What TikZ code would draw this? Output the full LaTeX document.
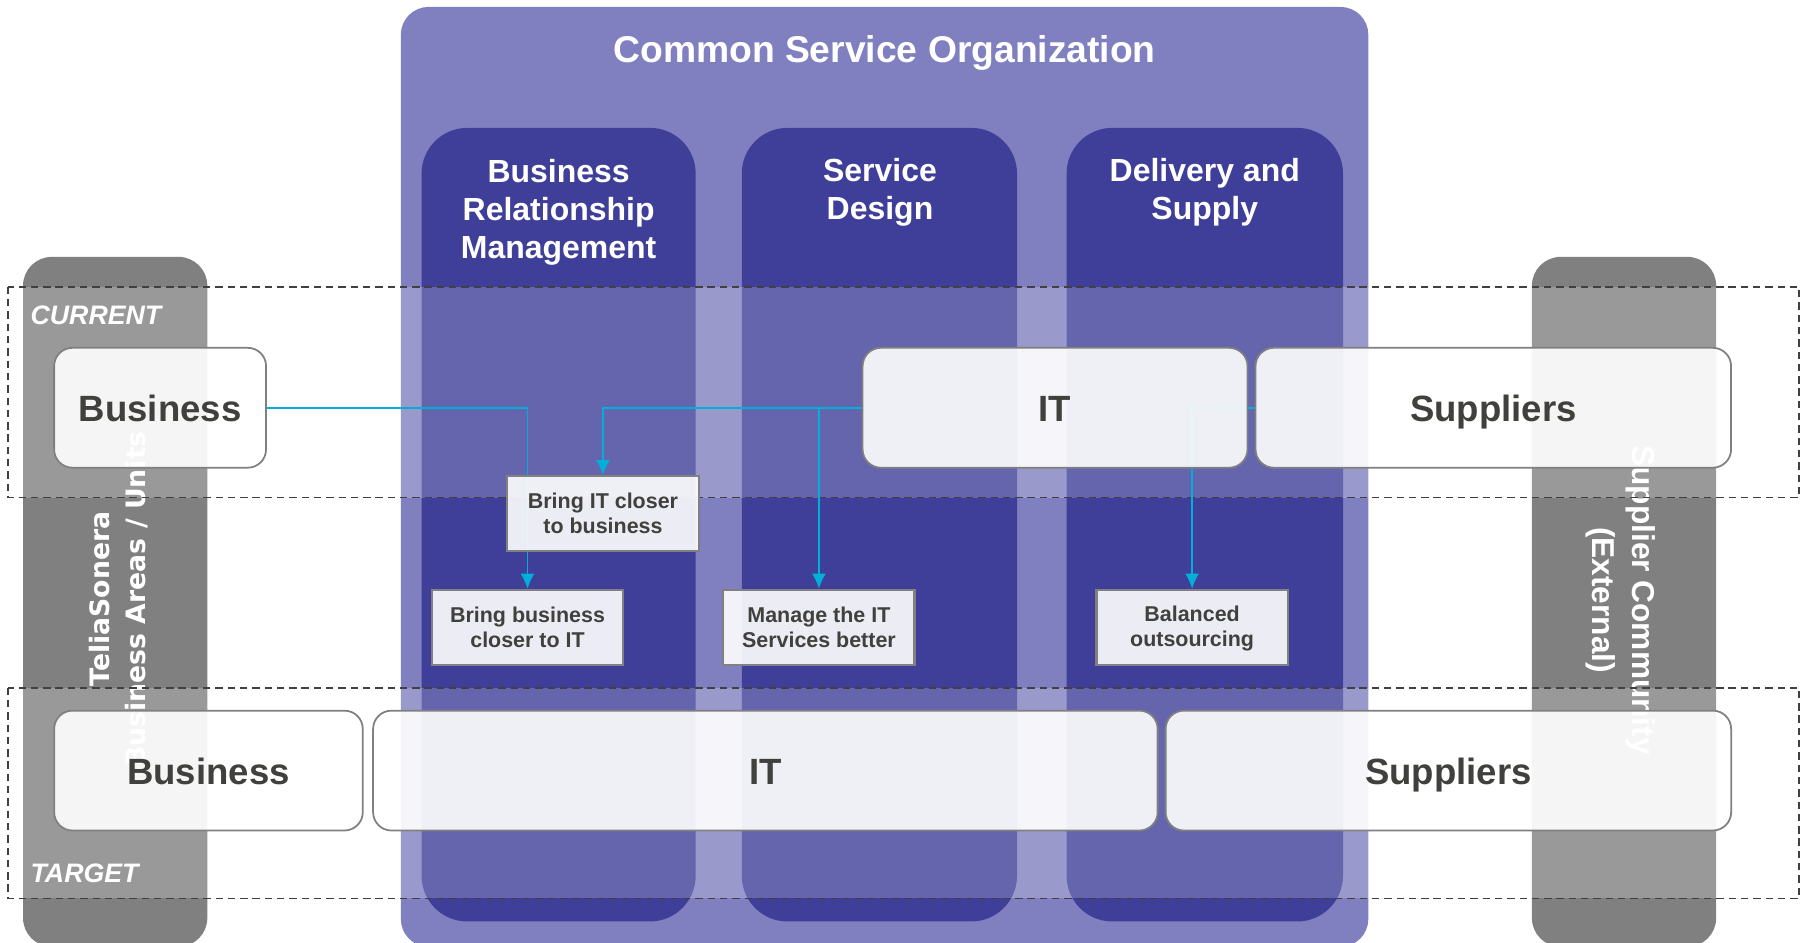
\documentclass[tikz,border=0pt]{standalone}
\usepackage{fontspec}
\setmainfont{Liberation Sans}
\newfontfamily\wideface{DejaVu Sans}
\usetikzlibrary{arrows.meta}
\definecolor{orgpurple}{RGB}{128,128,192}
\definecolor{colpurple}{RGB}{63,63,153}
\definecolor{sidegray}{RGB}{128,128,128}
\definecolor{flowcyan}{RGB}{0,176,216}
\definecolor{boxtext}{RGB}{64,64,60}
\definecolor{bandline}{RGB}{64,64,64}
\pgfdeclarelayer{background}
\pgfdeclarelayer{flowlayer}
\pgfsetlayers{background,flowlayer,main}

\begin{document}
\begin{tikzpicture}[x=0.3277pt,y=-0.3277pt,>={Latex[length=4.3pt,width=4pt]}]

    \tikzstyle{stage} = [draw=sidegray, line width=0.5pt, fill=white, fill opacity=0.9, text opacity=1, rounded corners=5.2pt, minimum height=34.1pt, inner sep=0pt, text height=7.9pt, text depth=0pt, text=boxtext, font=\bfseries\fontsize{10.4}{12}\selectfont];
    \tikzstyle{goal} = [draw=sidegray, line width=0.6pt, fill=white, fill opacity=0.9, text opacity=1, minimum width=54.4pt, minimum height=21.3pt, inner sep=0pt, align=center, text=boxtext, font=\bfseries\fontsize{6.1}{7.1}\selectfont];
    \tikzstyle{band} = [draw=bandline, line width=0.5pt, dash pattern=on 2.1pt off 1.4pt, fill=white, fill opacity=0.2];
    \tikzstyle{flow} = [->, draw=flowcyan, line width=0.5pt];
    \tikzstyle{coltitle} = [text=white, align=center, font=\bfseries\fontsize{9.1}{10.8}\selectfont];
    \tikzstyle{phase} = [anchor=west, inner sep=0pt, text=white, font=\bfseries\itshape\fontsize{7.6}{9}\selectfont];

    \useasboundingbox (0,0) rectangle (1568,818);
    \clip (0,0) rectangle (1568,818);

    % organisation, columns and side bars
    \begin{pgfonlayer}{background}
        \fill[orgpurple, rounded corners=7.9pt] (348,6) rectangle (1188,822);
        \fill[colpurple, rounded corners=13pt] (366,111) rectangle (604,800);
        \fill[colpurple, rounded corners=13pt] (644,111) rectangle (883,800);
        \fill[colpurple, rounded corners=13pt] (926,111) rectangle (1166,800);
        \fill[sidegray, rounded corners=8.2pt] (20,223) rectangle (180,822);
        \fill[sidegray, rounded corners=8.2pt] (1330,223) rectangle (1490,822);

        \node[text=white, font=\bfseries\fontsize{10.6}{12}\selectfont] (org) at (768,46) {Common Service Organization};
        \node[coltitle] (brm) at (485,184) {Business\\Relationship\\Management};
        \node[coltitle] (sd) at (764,167) {Service\\Design};
        \node[coltitle] (ds) at (1046,167) {Delivery and\\Supply};

        \node[rotate=90, text=white, align=center, font=\wideface\bfseries\fontsize{7.6}{10.5}\selectfont] (telia) at (103,520) {TeliaSonera\\Business Areas / Units};
        \node[rotate=-90, text=white, align=center, font=\bfseries\fontsize{9}{11.5}\selectfont] (supcom) at (1407,521) {Supplier Community\\(External)};

        \path[band] (7,249) rectangle (1562,432);
        \path[band] (7,597) rectangle (1562,780);
    \end{pgfonlayer}

    \node[phase] (current) at (26,274) {CURRENT};
    \node[phase] (target) at (26,758) {TARGET};

    % current
    \node[stage, minimum width=60.3pt] (curBiz) at (139,354) {Business};
    \node[stage, minimum width=109.5pt] (curIT) at (916,354) {IT};
    \node[stage, minimum width=135.3pt] (curSup) at (1296.5,354) {Suppliers};

    % target
    \node[stage, minimum width=87.8pt] (tgtBiz) at (181,669) {Business};
    \node[stage, minimum width=223.2pt] (tgtIT) at (664.5,669) {IT};
    \node[stage, minimum width=160.9pt] (tgtSup) at (1257.5,669) {Suppliers};

    % moves
    \node[goal] (itCloser) at (523.5,446) {Bring IT closer\\to business};
    \node[goal] (bizCloser) at (458,544.5) {Bring business\\closer to IT};
    \node[goal] (manageIT) at (711,544.5) {Manage the IT\\Services better};
    \node[goal] (balanced) at (1035,544.5) {\rule{0pt}{1.6ex}Balanced\\outsourcing};

    \begin{pgfonlayer}{flowlayer}
        \draw[flow] (curBiz.east) -| (bizCloser.north);
        \draw[flow] (curIT.west) -| (itCloser.north);
        \draw[flow] (curIT.west) -| (manageIT.north);
        \draw[flow] (curSup.west) -| (balanced.north);
    \end{pgfonlayer}

\end{tikzpicture}
\end{document}
